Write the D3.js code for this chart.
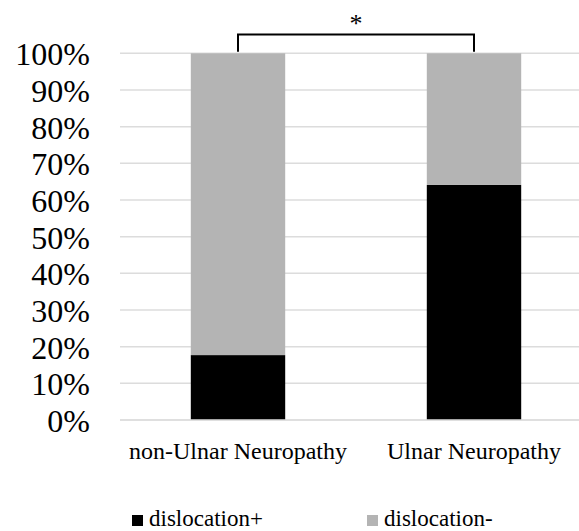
<!DOCTYPE html>
<html><head><meta charset="utf-8">
<script src="https://cdn.jsdelivr.net/npm/d3@7"></script>
<style>body{margin:0;background:#fff}svg{display:block}
svg text{font-family:"Liberation Serif","Times New Roman",Times,"DejaVu Serif",serif !important;}</style>
</head><body>
<svg id="c" width="579" height="531"></svg>
<script>
const categories = ["non-Ulnar Neuropathy", "Ulnar Neuropathy"];
const seriesNames = ["dislocation+", "dislocation-"];
const dislocationPlus = [0.177, 0.641];
const dislocationMinus = [0.823, 0.359];
const yTicks = [0,0.1,0.2,0.3,0.4,0.5,0.6,0.7,0.8,0.9,1.0];
const colors = ["#000000", "#b4b4b4"];

const svg = d3.select("#c");
const x = d3.scaleBand().domain(categories).range([120, 592]).paddingInner(0.6).paddingOuter(0.3);
const y = d3.scaleLinear().domain([0,1]).range([420, 53.3]);

// gridlines
svg.append("g").selectAll("line").data(yTicks).join("line")
  .attr("x1", 120).attr("x2", 579)
  .attr("y1", d=>y(d)).attr("y2", d=>y(d))
  .attr("stroke", "#dcdcdc").attr("stroke-width", 1.5);

// y axis labels
const yAxis = d3.axisLeft(y).tickValues(yTicks).tickFormat(d3.format(".0%")).tickSize(0).tickPadding(0);
const ya = svg.append("g").attr("transform","translate(90,0)").call(yAxis);
ya.select(".domain").remove();
ya.selectAll("text").attr("font-size", 32).attr("fill","#000").attr("dy","0.36em");

// stacked bars
const rows = categories.map((c,i)=>({cat:c, plus:dislocationPlus[i], minus:dislocationMinus[i]}));
const stack = d3.stack().keys(["plus","minus"])(rows);
svg.append("g").selectAll("g").data(stack).join("g")
  .attr("fill", (d,i)=>colors[i])
  .selectAll("rect").data(d=>d).join("rect")
  .attr("x", d=>x(d.data.cat)).attr("width", x.bandwidth())
  .attr("y", d=>y(d[1])).attr("height", d=>y(d[0])-y(d[1]));

// baseline
svg.append("line").attr("x1",120).attr("x2",579).attr("y1",y(0)).attr("y2",y(0))
  .attr("stroke","#dcdcdc").attr("stroke-width",1.5);

// x axis labels
const xAxis = d3.axisBottom(x).tickSize(0).tickPadding(0);
const xa = svg.append("g").attr("transform","translate(0,459)").call(xAxis);
xa.select(".domain").remove();
xa.selectAll("text").attr("font-size", 24).attr("fill","#000").attr("dy","0").attr("y",0);

// significance bracket
const cx0 = x(categories[0]) + x.bandwidth()/2, cx1 = x(categories[1]) + x.bandwidth()/2;
svg.append("path")
  .attr("d", `M${cx0},${y(1)-1.5}V34.5H${cx1}V${y(1)-1.5}`)
  .attr("fill","none").attr("stroke","#000").attr("stroke-width",2);
svg.append("text").attr("x",(cx0+cx1)/2).attr("y",32).attr("text-anchor","middle")
  .attr("font-size",26).text("*");

// legend
const legX = [132, 367];
const lg = svg.append("g").selectAll("g").data(seriesNames).join("g")
  .attr("transform",(d,i)=>`translate(${legX[i]},0)`);
lg.append("rect").attr("x",0).attr("y",515).attr("width",11).attr("height",11).attr("fill",(d,i)=>colors[i]);
lg.append("text").attr("x",17).attr("y",526).attr("font-size",23).attr("fill","#000").text(d=>d);
</script>
</body></html>
